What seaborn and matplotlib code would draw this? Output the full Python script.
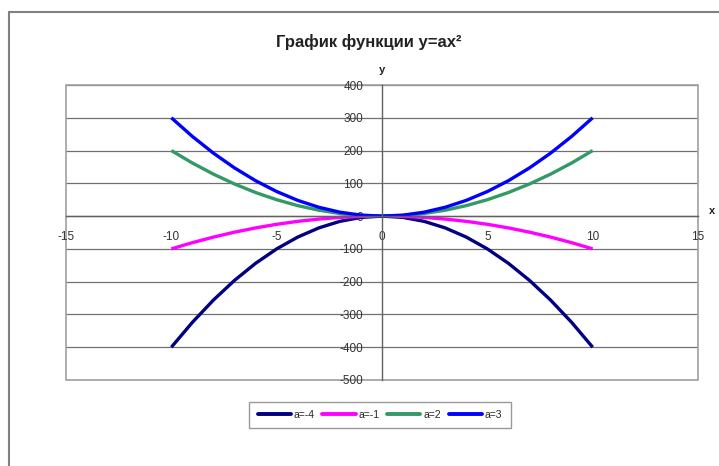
import matplotlib
matplotlib.use("Agg")
import matplotlib.pyplot as plt
import seaborn as sns
import pandas as pd
from matplotlib.patches import Rectangle
from matplotlib.lines import Line2D

# ---- data ----
x_values = [-10, -9, -8, -7, -6, -5, -4, -3, -2, -1, 0, 1, 2, 3, 4, 5, 6, 7, 8, 9, 10]
y_a_minus4 = [-400, -324, -256, -196, -144, -100, -64, -36, -16, -4, 0, -4, -16, -36, -64, -100, -144, -196, -256, -324, -400]
y_a_minus1 = [-100, -81, -64, -49, -36, -25, -16, -9, -4, -1, 0, -1, -4, -9, -16, -25, -36, -49, -64, -81, -100]
y_a_2 = [200, 162, 128, 98, 72, 50, 32, 18, 8, 2, 0, 2, 8, 18, 32, 50, 72, 98, 128, 162, 200]
y_a_3 = [300, 243, 192, 147, 108, 75, 48, 27, 12, 3, 0, 3, 12, 27, 48, 75, 108, 147, 192, 243, 300]
series_names = ["a=-4", "a=-1", "a=2", "a=3"]
series_colors = ["#000080", "#FF00FF", "#339966", "#0000FF"]
x_ticks = [-15, -10, -5, 0, 5, 10, 15]
y_ticks = [-500, -400, -300, -200, -100, 0, 100, 200, 300, 400]
title_text = "График функции y=ax²"

frames = []
for name, ys in zip(series_names, [y_a_minus4, y_a_minus1, y_a_2, y_a_3]):
    frames.append(pd.DataFrame({"x": x_values, "y": ys, "series": name}))
df = pd.concat(frames, ignore_index=True)

sns.set_style("white")
plt.rcParams["font.family"] = ["Liberation Sans", "DejaVu Sans"]

fig = plt.figure(figsize=(7.19, 4.66), dpi=100)
ax = fig.add_axes([66 / 719, 1 - 380 / 466, (698 - 66) / 719, (380 - 85) / 466])

sns.lineplot(data=df, x="x", y="y", hue="series", hue_order=series_names,
             palette=series_colors, linewidth=2.4, ax=ax, legend=False,
             sort=False, estimator=None)
for ln in ax.lines:
    ln.set_solid_joinstyle("round")
    ln.set_solid_capstyle("butt")

# axes crossing at zero (set before tick formatting: set_position resets ticks)
for s in ["top", "right"]:
    ax.spines[s].set_visible(False)
ax.spines["left"].set_position(("data", 0))
ax.spines["bottom"].set_position(("data", 0))
ax.spines["left"].set_color("#606060")
ax.spines["bottom"].set_color("#606060")
ax.spines["left"].set_linewidth(1.0)
ax.spines["bottom"].set_linewidth(1.0)

ax.set_xlim(-15, 15)
ax.set_ylim(-500, 400)
ax.set_xticks(x_ticks)
ax.set_yticks(y_ticks)
ax.set_xticklabels([str(t) for t in x_ticks])
ax.set_yticklabels([str(t) for t in y_ticks])
ax.set_xlabel("")
ax.set_ylabel("")
ax.tick_params(axis="both", direction="inout", length=5, width=0.8, color="#606060",
               labelsize=8.5, labelcolor="#333333")
ax.tick_params(axis="x", pad=8)
ax.tick_params(axis="y", pad=11)

# horizontal gridlines
for t in y_ticks:
    ax.axhline(t, color="#707070", linewidth=0.9, zorder=0)

# plot-area frame
ax.add_patch(Rectangle((0, 0), 1, 1, transform=ax.transAxes, fill=False,
                       edgecolor="#A0A0A0", linewidth=1.2, zorder=0.5, clip_on=False))

# axis names
ax.text(15.5, 0, "x", fontsize=8, fontweight="bold", ha="left", va="bottom", color="#222222")
ax.text(0, 1.035, "y", transform=ax.get_xaxis_transform(), fontsize=8, fontweight="bold",
        ha="center", va="bottom", color="#222222")

# title
fig.text(369 / 719, 1 - 42 / 466, title_text, fontsize=12, fontweight="bold",
         ha="center", va="center", color="#222222")

# legend
handles = [Line2D([0], [0], color=c, linewidth=2.8) for c in series_colors]
leg = fig.legend(handles, series_names, loc="center", bbox_to_anchor=(380 / 719, 1 - 415 / 466),
                 ncol=4, fontsize=7.5, frameon=True, fancybox=False, handlelength=3.2,
                 columnspacing=0.7, handletextpad=0.3, borderpad=0.8)
leg.get_frame().set_edgecolor("#808080")
leg.get_frame().set_linewidth(1.0)

# outer chart border (partially visible)
fig.add_artist(Line2D([9 / 719, 9 / 719], [0, 1 - 12 / 466], transform=fig.transFigure,
                      color="#808080", linewidth=1.5))
fig.add_artist(Line2D([9 / 719, 1], [1 - 12 / 466, 1 - 12 / 466], transform=fig.transFigure,
                      color="#808080", linewidth=1.5))

fig.savefig("out.png", dpi=100)
